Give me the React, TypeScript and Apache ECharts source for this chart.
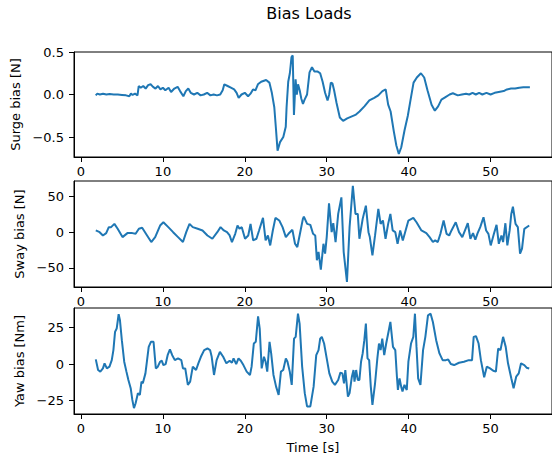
import React, { useEffect, useRef } from "react";
import * as echarts from "echarts";

const titleText = "Bias Loads";
const xTicks = [0, 10, 20, 30, 40, 50];

const surgeTime = [1.8, 2.0, 2.3, 2.7, 3.1, 3.5, 4.0, 4.5, 5.0, 5.5, 5.9, 6.1, 6.3, 6.6, 6.9, 7.05, 7.3, 7.6, 7.9, 8.2, 8.5, 8.8, 9.1, 9.4, 9.7, 10.0, 10.3, 10.7, 11.0, 11.4, 11.8, 12.1, 12.5, 12.8, 13.1, 13.4, 13.8, 14.2, 14.6, 15.0, 15.4, 15.8, 16.2, 16.6, 17.0, 17.3, 17.5, 17.9, 18.3, 18.7, 19.0, 19.25, 19.6, 20.0, 20.4, 20.7, 21.0, 21.3, 21.6, 22.0, 22.6, 23.0, 23.3, 23.6, 23.8, 24.0, 24.3, 24.7, 25.0, 25.1, 25.3, 25.5, 25.7, 25.85, 26.0, 26.2, 26.35, 26.5, 26.7, 26.9, 27.1, 27.3, 27.6, 27.9, 28.2, 28.5, 28.9, 29.2, 29.5, 29.8, 30.1, 30.3, 30.5, 30.7, 30.9, 31.2, 31.6, 32.0, 32.5, 33.0, 33.5, 34.0, 34.6, 35.2, 35.8, 36.3, 36.8, 37.2, 37.5, 37.8, 38.2, 38.5, 38.8, 39.1, 39.5, 39.9, 40.2, 40.6, 41.0, 41.5, 41.9, 42.3, 42.8, 43.2, 43.6, 44.0, 44.5, 45.0, 45.4, 46.0, 46.5, 47.0, 47.4, 47.8, 48.2, 48.6, 49.0, 49.5, 50.0, 50.5, 51.0, 51.6, 52.0, 52.5, 53.0, 53.5, 54.0, 54.8];
const surgeValues = [-0.01, 0.01, 0.0, 0.01, 0.0, 0.005, 0.0, 0.0, -0.005, -0.01, -0.02, 0.01, -0.005, 0.01, -0.01, 0.1, 0.08, 0.1, 0.07, 0.11, 0.12, 0.09, 0.07, 0.1, 0.06, 0.08, 0.05, 0.08, 0.03, 0.07, 0.09, 0.04, -0.02, 0.04, 0.07, 0.02, 0.0, 0.02, -0.01, 0.0, 0.02, -0.01, 0.0, -0.01, 0.0, 0.05, 0.12, 0.1, 0.08, 0.06, 0.02, -0.04, 0.0, 0.02, -0.02, 0.01, 0.06, 0.05, 0.12, 0.15, 0.17, 0.14, 0.02, -0.15, -0.4, -0.66, -0.56, -0.5, -0.38, -0.15, 0.15, 0.25, 0.44, 0.46, -0.24, 0.18, 0.0, 0.12, 0.05, -0.05, -0.11, -0.06, 0.0, 0.26, 0.32, 0.27, 0.27, 0.25, 0.15, 0.02, -0.07, 0.0, 0.14, 0.13, 0.05, -0.1, -0.27, -0.31, -0.28, -0.26, -0.24, -0.2, -0.14, -0.07, -0.04, -0.01, 0.04, 0.06, -0.12, -0.2, -0.44, -0.6, -0.7, -0.62, -0.42, -0.25, -0.08, 0.14, 0.2, 0.25, 0.2, 0.05, -0.12, -0.19, -0.14, -0.06, -0.03, 0.0, 0.015, -0.01, 0.0, 0.01, 0.0, 0.02, 0.0, 0.02, 0.0, 0.02, 0.0, 0.02, 0.03, 0.04, 0.06, 0.07, 0.07, 0.08, 0.085, 0.085];

const swayTime = [1.81, 2.28, 2.68, 3.08, 3.4, 3.68, 4.08, 4.48, 5.07, 5.67, 6.27, 6.67, 7.07, 7.47, 8.07, 8.58, 9.06, 9.66, 10.06, 10.66, 11.25, 11.85, 12.45, 12.85, 13.25, 13.65, 14.25, 14.84, 15.44, 16.04, 16.64, 17.04, 17.44, 17.83, 18.15, 18.43, 18.83, 19.11, 19.35, 19.63, 20.03, 20.42, 20.7, 21.02, 21.42, 21.74, 22.22, 22.54, 22.82, 23.1, 23.42, 23.74, 24.21, 24.61, 25.01, 25.33, 25.81, 26.13, 26.41, 26.81, 27.09, 27.21, 27.61, 28.0, 28.33, 28.6, 28.8, 29.0, 29.28, 29.6, 29.8, 30.0, 30.28, 30.6, 30.8, 31.08, 31.4, 31.79, 32.07, 32.47, 32.79, 33.19, 33.51, 33.79, 33.99, 34.39, 34.78, 35.1, 35.26, 35.58, 35.9, 36.3, 36.58, 36.86, 37.18, 37.5, 37.77, 38.05, 38.37, 38.65, 38.97, 39.29, 39.57, 39.97, 40.57, 40.96, 41.56, 42.16, 42.56, 42.96, 43.24, 43.56, 43.88, 44.27, 44.63, 44.95, 45.23, 45.75, 46.15, 46.55, 46.95, 47.22, 47.54, 47.86, 48.14, 48.42, 48.74, 49.14, 49.46, 49.74, 50.02, 50.41, 50.73, 51.01, 51.33, 51.53, 51.81, 52.05, 52.33, 52.53, 52.73, 53.05, 53.33, 53.6, 53.84, 54.12, 54.72];
const swayValues = [2.4, 0, -4.6, -1.3, 7.0, 7.0, 11.6, 4.7, -6.9, -1.3, -1.3, -2.3, 4.7, 6.1, -4.6, -13.8, -6.9, 9.3, 13.9, 7.0, 0, -6.9, -13.8, 0, 11.6, 7.0, 4.7, 2.4, -4.6, -9.2, 0, 7.0, 2.4, 0, -4.6, -13.8, -2.3, 9.3, 4.7, 7.0, -9.2, -4.6, 11.6, -11.5, -9.2, 2.4, 20.0, -11.5, -4.6, -18.5, 2.4, 20.0, 16.3, 7.0, -6.9, -2.3, 3.3, -16.2, -20.8, 2.4, 18.6, 21.8, 11.6, 10.2, -2.3, -4.6, -39.3, -27.7, -52.3, -16.2, -30.0, -6.9, 40.3, 0, 12.5, -13.8, 25.5, 48.7, -27.7, -69.4, 7.0, 64.9, 25.5, 25.5, -9.2, 18.6, 37.1, 0, -6.9, -32.4, -4.6, 32.5, 11.6, 16.3, -9.2, 11.6, 25.5, 2.4, 0, -16.2, 2.4, -11.5, 0, 16.3, 20.0, 13.9, 2.4, -1.3, -6.9, -13.8, -11.5, -13.8, -2.3, 16.3, -2.3, -4.6, 2.4, 13.9, 0, -6.9, 4.7, 12.5, -9.2, -1.3, -10.6, -1.3, 7.0, 20.9, 2.4, -2.3, -18.5, -2.3, 10.2, -16.2, -4.6, -13.8, 12.5, -18.5, 2.4, 25.5, 35.7, 11.6, 7.0, -30.0, -23.1, 4.7, 9.3];

const yawTime = [1.81, 2.09, 2.36, 2.68, 2.88, 3.16, 3.48, 3.76, 3.96, 4.16, 4.36, 4.6, 4.76, 4.99, 5.28, 5.55, 5.79, 6.07, 6.27, 6.47, 6.67, 6.95, 7.19, 7.39, 7.55, 7.87, 8.07, 8.27, 8.54, 8.86, 9.14, 9.38, 9.66, 9.86, 10.06, 10.34, 10.58, 10.86, 11.14, 11.46, 11.85, 12.25, 12.45, 12.73, 13.05, 13.33, 13.65, 14.05, 14.33, 14.64, 15.04, 15.44, 15.76, 15.96, 16.24, 16.56, 16.96, 17.36, 17.75, 18.15, 18.43, 18.63, 18.95, 19.23, 19.51, 19.83, 20.23, 20.63, 20.83, 21.1, 21.34, 21.62, 21.82, 22.06, 22.34, 22.54, 22.74, 23.02, 23.22, 23.5, 23.82, 24.13, 24.41, 24.69, 25.01, 25.21, 25.49, 25.73, 26.01, 26.21, 26.49, 26.69, 27.0, 27.32, 27.6, 28.0, 28.4, 28.72, 29.0, 29.2, 29.4, 29.68, 30.0, 30.32, 30.68, 31.0, 31.4, 31.67, 31.91, 32.11, 32.27, 32.59, 32.79, 33.07, 33.27, 33.39, 33.59, 33.79, 33.99, 34.19, 34.39, 34.59, 34.78, 34.98, 35.18, 35.38, 35.58, 35.9, 36.18, 36.38, 36.58, 36.78, 37.02, 37.26, 37.58, 37.77, 38.09, 38.37, 38.57, 38.69, 38.89, 39.09, 39.25, 39.49, 39.77, 39.97, 40.29, 40.57, 40.77, 40.96, 41.16, 41.44, 41.76, 42.04, 42.36, 42.68, 42.96, 43.36, 43.76, 44.15, 44.55, 44.83, 45.15, 45.55, 46.15, 46.75, 47.34, 47.74, 47.94, 48.22, 48.54, 48.82, 49.22, 49.54, 49.94, 50.33, 50.65, 50.93, 51.21, 51.53, 51.85, 52.13, 52.53, 52.81, 53.13, 53.44, 53.72, 54.12, 54.4, 54.72];
const yawValues = [3.2, -4.1, -5.2, -3.0, 0.5, -3.0, -1.8, 2.7, 9.6, 22.1, 24.4, 34.2, 30.1, 16.4, 1.6, -5.2, -10.9, -16.6, -24.6, -30.3, -26.9, -20.0, -21.2, -12.1, -13.2, -6.4, 2.7, 11.8, 15.3, 15.3, -3.0, -1.8, 1.6, 2.3, -0.7, 0, 6.1, 10.0, 6.1, 2.7, 3.9, 2.7, -3.0, -3.0, -14.3, -12.1, -1.8, -4.1, 0.5, 5.0, 9.6, 10.7, 9.6, 5.0, -7.5, 2.7, 8.4, 5.0, 0.5, 2.3, 0.9, 3.9, 0, 3.9, 2.3, -0.7, -5.2, -7.5, -1.8, 14.1, 15.3, 32.8, 24.4, -3.0, 5.0, 1.6, -5.2, 15.3, 7.3, -7.5, -15.5, -21.2, -5.2, -4.1, 3.9, 1.6, -5.2, -14.3, 17.5, 18.7, 34.6, 27.8, -1.8, -20.0, -29.1, -29.1, -15.5, 6.1, 9.6, 17.5, 18.7, 14.1, 3.9, -6.4, -12.1, -14.3, -10.9, -5.9, -6.4, -13.2, -4.1, -22.3, -20.0, -8.7, -4.1, -12.1, -4.1, -10.9, -10.9, 1.6, 7.3, 16.4, 27.8, 3.9, 2.7, -15.5, -28.0, -13.2, 3.9, 14.1, 9.6, 17.5, 6.1, 14.1, 23.2, 28.9, 11.8, 9.6, -8.7, -17.8, -9.8, -15.5, -18.9, -14.3, -17.8, 1.6, 14.1, 18.7, 34.6, 11.8, -9.8, -14.3, 9.6, 18.7, 33.5, 34.6, 28.9, 16.4, 7.3, 2.7, 2.7, 3.2, 0, -0.7, 0.9, 1.6, 2.7, 2.7, 18.7, 19.2, 14.1, 2.7, -9.1, -1.8, -3.0, -4.6, -5.2, 10.7, 9.6, 18.7, 11.8, 0.5, -9.8, -16.6, -8.7, -6.4, 0.5, -0.7, -2.5, -3.0];

const surgeTicks = [-0.5, 0.0, 0.5];
const swayTicks = [-50, 0, 50];
const yawTicks = [-25, 0, 25];

const FONT = "DejaVu Sans";
const LINE = "#1f77b4";

function pairs(t: number[], v: number[]) {
  return t.map((x, i) => [x, v[i]]);
}

const minus = (s: string) => s.replace("-", "\u2212");

export default function App() {
  const ref = useRef<HTMLDivElement>(null);
  useEffect(() => {
    if (!ref.current) return;
    const chart = echarts.init(ref.current, null, { renderer: "svg" });
    const grids = [
      { left: 74, top: 52, width: 488, height: 105 },
      { left: 74, top: 181, width: 488, height: 106 },
      { left: 74, top: 308, width: 488, height: 106 },
    ].map((g) => ({ ...g, show: true, borderColor: "#000", borderWidth: 1, backgroundColor: "transparent" }));

    const axisCommon = {
      axisLine: { show: true, onZero: false, lineStyle: { color: "#000", width: 1 } },
      axisTick: { show: true, inside: false, length: 5, lineStyle: { color: "#000", width: 1 } },
      splitLine: { show: false },
    };

    const xAxes = [0, 1, 2].map((i) => ({
      type: "value",
      gridIndex: i,
      min: -0.85,
      max: 57.5,
      ...axisCommon,
      axisTick: { ...axisCommon.axisTick, customValues: xTicks },
      axisLabel: {
        customValues: xTicks,
        color: "#000",
        fontSize: 13,
        fontFamily: FONT,
        margin: 8,
        formatter: (v: number) => minus(String(v)),
      },
      name: i === 2 ? "Time [s]" : "",
      nameLocation: "middle",
      nameGap: 27,
      nameTextStyle: { color: "#000", fontSize: 13, fontFamily: FONT },
    }));

    const yDefs = [
      { min: -0.735, max: 0.5, ticks: surgeTicks, name: "Surge bias [N]", gap: 46, fmt: (v: number) => minus(v.toFixed(1)) },
      { min: -76.6, max: 71.5, ticks: swayTicks, name: "Sway bias [N]", gap: 41, fmt: (v: number) => minus(String(Math.round(v))) },
      { min: -34.3, max: 38.5, ticks: yawTicks, name: "Yaw bias [Nm]", gap: 41, fmt: (v: number) => minus(String(Math.round(v))) },
    ];
    const yAxes = yDefs.map((d, i) => ({
      type: "value",
      gridIndex: i,
      min: d.min,
      max: d.max,
      ...axisCommon,
      axisTick: { ...axisCommon.axisTick, customValues: d.ticks },
      axisLabel: {
        customValues: d.ticks,
        color: "#000",
        fontSize: 13,
        fontFamily: FONT,
        margin: 10,
        formatter: d.fmt,
      },
      name: d.name,
      nameLocation: "middle",
      nameGap: d.gap,
      nameRotate: 90,
      nameTextStyle: { color: "#000", fontSize: 13, fontFamily: FONT },
    }));

    const seriesData = [pairs(surgeTime, surgeValues), pairs(swayTime, swayValues), pairs(yawTime, yawValues)];

    chart.setOption({
      animation: false,
      backgroundColor: "#fff",
      grid: grids,
      xAxis: xAxes,
      yAxis: yAxes,
      graphic: [
        {
          type: "text",
          x: 309,
          y: 13,
          style: {
            text: titleText,
            fontSize: 16,
            fontFamily: FONT,
            fill: "#000",
            align: "center",
            verticalAlign: "middle",
          },
        },
      ],
      series: seriesData.map((data, i) => ({
        type: "line",
        xAxisIndex: i,
        yAxisIndex: i,
        data,
        showSymbol: false,
        symbol: "none",
        lineStyle: { color: LINE, width: 2 },
        clip: true,
      })),
    });
    return () => chart.dispose();
  }, []);
  return <div ref={ref} style={{ position: "absolute", left: 0, top: 0, width: 552, height: 458 }} />;
}
